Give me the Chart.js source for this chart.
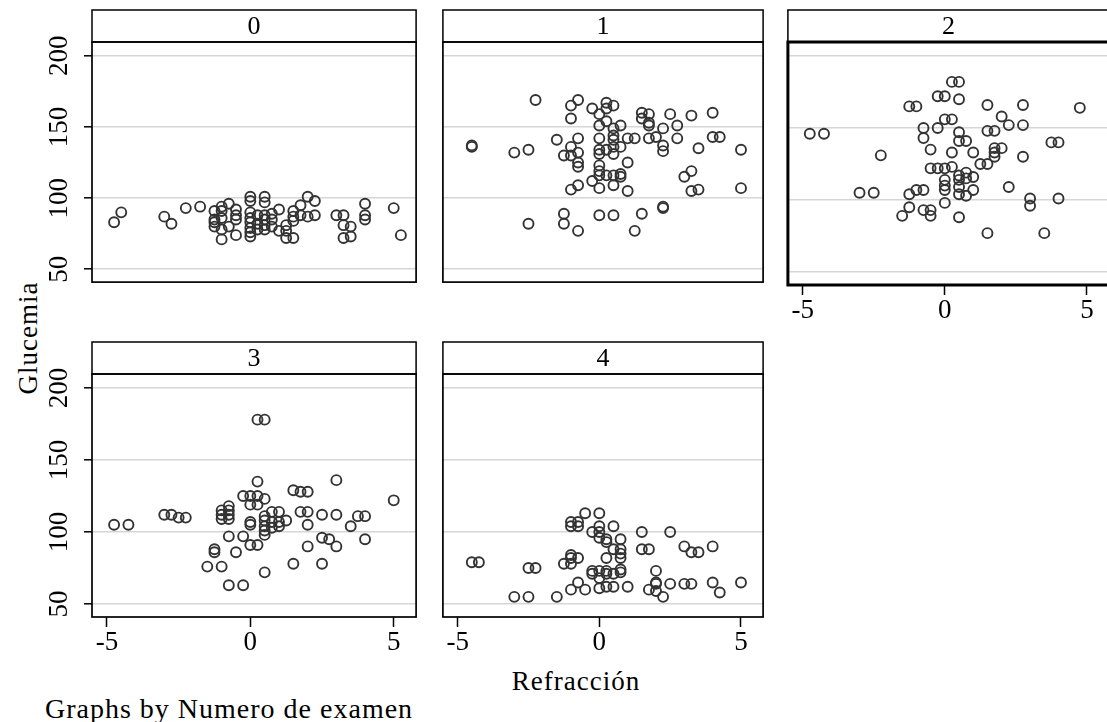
<!DOCTYPE html>
<html>
<head>
<meta charset="utf-8">
<script src="https://cdn.jsdelivr.net/npm/chart.js@4.4.1/dist/chart.umd.min.js"></script>
<style>
  body { margin: 0; background: #fff; width: 1107px; height: 722px; overflow: hidden; position: relative; font-family: "Liberation Serif", serif; }
  canvas { position: absolute; }
  .txt { position: absolute; color: #000; white-space: nowrap; line-height: 1; letter-spacing: 1px; }
  #ytitle { font-size: 27px; left: 28px; top: 338px; transform: translate(-50%, -50%) rotate(-90deg); }
  #xtitle { font-size: 27px; left: 576px; top: 681px; transform: translate(-50%, -50%); }
  #note { font-size: 28px; left: 45px; top: 709px; transform: translateY(-50%); }
</style>
</head>
<body>
<div class="txt" id="ytitle">Glucemia</div>
<div class="txt" id="xtitle">Refracción</div>
<div class="txt" id="note">Graphs by Numero de examen</div>

<script>
// Refracción (x) and Glucemia (y), one pair of arrays per exam number
const refr0 = [-4.75,-4.5,-3,-2.75,-2.25,-1.75,-1.25,-1.25,-1.25,-1.25,-1,-1,-1,-1,-1,-0.75,-0.75,-0.5,-0.5,-0.5,-0.5,
  0,0,0,0,0,0,0,0,0.25,0.25,0.25,0.5,0.5,0.5,0.5,0.5,0.5,0.75,0.75,0.75,1,1,1.25,1.25,1.25,1.5,1.5,1.5,1.5,
  1.75,1.75,2,2,2.25,2.25,3,3.25,3.25,3.25,3.5,3.5,4,4,4,5,5.25];
const gluc0 = [83,90,87,82,93,94,91,85,83,80,94,71,91,86,78,96,80,92,88,85,74,
  101,98,90,86,83,79,76,73,78,88,82,101,97,88,85,81,78,89,85,80,92,77,81,77,72,91,87,84,72,
  95,88,101,87,98,88,88,88,81,72,80,73,96,88,85,93,74];

const refr1 = [-4.5,-4.5,-3,-2.5,-2.25,-2.5,-1.5,-1.25,-1.25,-1.25,-1,-1,-1,-1,-1,
  -0.75,-0.75,-0.75,-0.75,-0.75,-0.75,-0.75,-0.25,-0.25,0,0,0,0,0,0,0,0,0,0,
  0.25,0.25,0.25,0.25,0.25,0.5,0.5,0.5,0.5,0.5,0.5,0.5,0.5,0.5,0.75,0.75,0.75,0.75,
  1,1,1,1.25,1.25,1.5,1.5,1.5,1.75,1.75,1.75,1.75,2,2.25,2.25,2.25,2.25,2.25,2.5,2.75,2.75,
  3,3.25,3.25,3.25,3.5,3.5,4,4,4.25,5,5];
const gluc1 = [137,136,132,134,169,82,141,130,89,82,165,156,136,130,106,
  169,142,132,125,122,109,77,163,112,159,151,142,134,131,123,119,116,107,88,
  167,163,154,134,116,165,149,144,141,136,131,116,109,88,151,136,117,115,
  125,142,105,142,77,160,156,89,159,153,151,142,143,149,137,133,94,93,159,151,142,
  115,158,119,105,106,135,160,143,143,134,107];

const refr2 = [-4.75,-4.25,-3,-2.5,-2.25,-1.5,-1.25,-1.25,-1.25,-1,-1,-0.75,-0.75,-0.75,-0.75,
  -0.5,-0.5,-0.5,-0.5,-0.25,-0.25,-0.25,0,0,0,0,0,0,0,0.25,0.25,0.25,0.25,
  0.5,0.5,0.5,0.5,0.5,0.5,0.5,0.5,0.5,0.75,0.75,0.75,0.75,1,1,1,1.25,
  1.5,1.5,1.5,1.5,1.75,1.75,1.75,1.75,2,2,2.25,2.25,2.75,2.75,2.75,3,3,3.5,3.75,4,4,4.75];
const gluc2 = [146,146,105,105,131,89,95,104,165,165,107,107,93,150,143,
  93,89,135,122,150,172,122,172,156,122,114,110,107,98,182,156,133,123,
  182,170,147,141,117,114,109,104,88,141,119,115,103,133,116,107,125,
  166,148,125,77,148,136,133,130,136,158,152,109,166,152,130,101,96,77,140,140,101,164];

const refr3 = [-4.75,-4.25,-3,-2.75,-2.5,-2.25,-1.5,-1.25,-1.25,-1,-1,-1,-1,
  -0.75,-0.75,-0.75,-0.75,-0.75,-0.75,-0.5,-0.25,-0.25,-0.25,0,0,0,0,0,
  0.25,0.25,0.25,0.25,0.25,0.5,0.5,0.5,0.5,0.5,0.5,0.5,0.5,0.75,0.75,0.75,1,1,1,1.25,
  1.5,1.5,1.75,1.75,2,2,2,2,2.5,2.5,2.5,2.75,3,3,3,3.5,3.75,4,4,5];
const gluc3 = [105,105,112,112,110,110,76,88,86,76,115,112,109,
  118,115,112,109,97,63,86,125,97,63,125,119,107,105,91,
  135,125,119,91,178,178,123,111,108,104,101,98,72,114,107,103,114,107,104,108,
  129,78,128,114,128,114,105,90,112,96,78,95,136,112,90,104,111,111,95,122];

const refr4 = [-4.5,-4.25,-3,-2.5,-2.5,-2.25,-1.5,-1.25,-1,-1,-1,-1,-1,-1,
  -0.75,-0.75,-0.75,-0.75,-0.5,-0.5,-0.25,-0.25,-0.25,0,0,0,0,0,0,0,
  0.25,0.25,0.25,0.25,0.25,0.25,0.5,0.5,0.5,0.5,0.75,0.75,0.75,0.75,0.75,0.75,1,
  1.5,1.5,1.75,1.75,2,2,2,2,2.25,2.5,2.5,3,3,3.25,3.25,3.5,4,4,4.25,5];
const gluc4 = [79,79,55,55,75,75,55,78,78,84,82,107,104,60,
  107,104,82,65,113,60,100,73,71,113,104,100,96,73,68,61,
  95,93,82,73,71,62,104,88,71,62,95,88,85,82,74,72,62,
  100,88,88,60,73,65,64,59,55,100,64,90,64,86,64,86,90,65,58,65];

const examLabels = ['0', '1', '2', '3', '4'];
const refrTicks = [-5, 0, 5];
const glucTicks = [50, 100, 150, 200];
const series = [[refr0, gluc0], [refr1, gluc1], [refr2, gluc2], [refr3, gluc3], [refr4, gluc4]];

// plot boxes in page pixels
const boxes = [
  { L: 92,  T: 42,  R: 419,  B: 285, yAxis: true,  xAxis: false },
  { L: 440, T: 42,  R: 766,  B: 285, yAxis: false, xAxis: false },
  { L: 785, T: 42,  R: 1112, B: 285, yAxis: false, xAxis: true, thick: true },
  { L: 92,  T: 374, R: 419,  B: 617, yAxis: true,  xAxis: true },
  { L: 440, T: 374, R: 766,  B: 617, yAxis: false, xAxis: true },
];

const FONT = '"Liberation Serif", serif';
const STRIP = 32;

const stripPlugin = {
  id: 'strip',
  afterDraw(chart, args, opts) {
    const { ctx, chartArea: a } = chart;
    ctx.save();
    ctx.strokeStyle = '#000';
    ctx.lineWidth = 1.5;
    ctx.strokeRect(a.left, a.top - STRIP, a.right - a.left, STRIP);
    ctx.lineWidth = opts.thick ? 3 : 1.7;
    ctx.strokeRect(a.left, a.top, a.right - a.left, a.bottom - a.top);
    ctx.fillStyle = '#000';
    ctx.font = '26px ' + FONT;
    ctx.textAlign = 'center';
    ctx.textBaseline = 'middle';
    ctx.fillText(opts.label, (a.left + a.right) / 2, a.top - STRIP / 2 + 1);
    ctx.restore();
  }
};

function noPad(s) { s.paddingTop = 0; s.paddingBottom = 0; s.paddingLeft = 0; s.paddingRight = 0; }

boxes.forEach((b, i) => {
  const yw = b.yAxis ? b.L : 4;
  const xh = b.xAxis ? 56 : 0;
  const left = b.L - yw;
  const top = b.T - STRIP - 3;
  const w = b.R - b.L + yw + 4;
  const h = b.B - b.T + STRIP + 3 + xh + 4;
  const cv = document.createElement('canvas');
  cv.width = w; cv.height = h;
  cv.style.left = left + 'px';
  cv.style.top = top + 'px';
  cv.style.width = w + 'px';
  cv.style.height = h + 'px';
  document.body.appendChild(cv);

  const [xs, ys] = series[i];
  const chart = new Chart(cv, {
    type: 'scatter',
    data: {
      datasets: [{
        data: xs.map((x, k) => ({ x, y: ys[k] })),
        pointStyle: 'circle',
        pointRadius: 5,
        pointBorderWidth: 1.9,
        borderColor: '#333',
        backgroundColor: 'rgba(0,0,0,0)',
      }],
    },
    options: {
      responsive: false,
      animation: false,
      events: [],
      layout: { padding: { top: STRIP + 3, right: 4, bottom: 4, left: b.yAxis ? 0 : 4 } },
      plugins: { legend: { display: false }, tooltip: { enabled: false }, strip: { label: examLabels[i], thick: !!b.thick } },
      scales: {
        x: {
          type: 'linear', min: -5.52, max: 5.78,
          display: b.xAxis,
          afterBuildTicks: s => { s.ticks = refrTicks.map(v => ({ value: v })); },
          afterFit: s => { s.height = xh; noPad(s); },
          border: { display: false },
          grid: { drawOnChartArea: false, drawTicks: true, tickLength: 10, tickColor: '#000', tickWidth: 1.5 },
          ticks: { color: '#000', font: { family: FONT, size: 27 }, padding: 0, maxRotation: 0 },
        },
        y: {
          type: 'linear', min: 41, max: 209.7,
          afterBuildTicks: s => { s.ticks = glucTicks.map(v => ({ value: v })); },
          afterFit: s => { s.width = b.yAxis ? yw : 0; noPad(s); },
          border: { display: false },
          grid: { color: '#d6d6d6', lineWidth: 1.6, drawTicks: b.yAxis, tickLength: 8, tickColor: '#000', tickWidth: 1.5 },
          ticks: { display: b.yAxis, color: '#000', font: { family: FONT, size: 27 }, padding: 4, minRotation: 90, maxRotation: 90, crossAlign: 'center' },
        },
      },
    },
    plugins: [stripPlugin],
  });

  // pin the plot area onto the box
  for (let k = 0; k < 3; k++) {
    const a = chart.chartArea;
    const p = chart.options.layout.padding;
    const dl = (b.L - left) - a.left, dt = (b.T - top) - a.top;
    const dr = a.right - (b.R - left), db = a.bottom - (b.B - top);
    if (Math.abs(dl) + Math.abs(dt) + Math.abs(dr) + Math.abs(db) < 0.5) break;
    chart.options.layout.padding = { left: p.left + dl, top: p.top + dt, right: p.right + dr, bottom: p.bottom + db };
    chart.update();
  }
});
</script>
</body>
</html>
